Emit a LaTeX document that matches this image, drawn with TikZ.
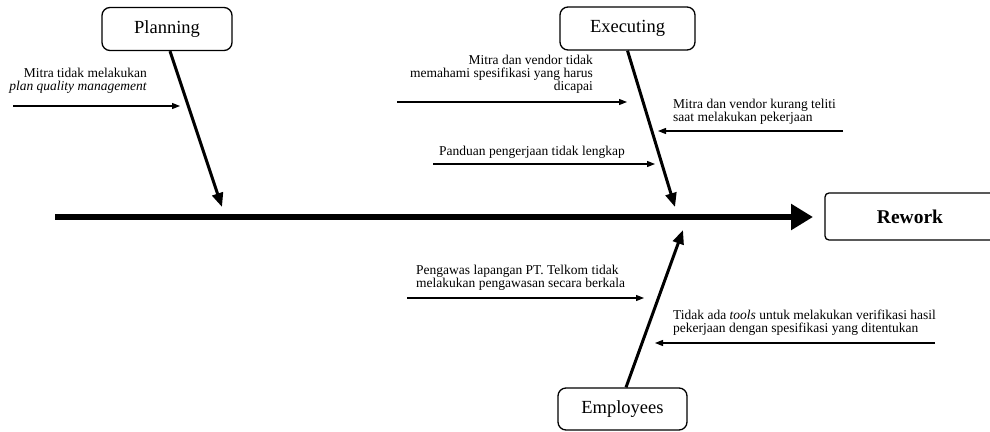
\documentclass[tikz,border=0pt]{standalone}
\usepackage{fontspec}
\setmainfont{Liberation Serif}
\usetikzlibrary{arrows.meta}
\tikzset{
	category/.style={draw,line width=1.3pt,rounded corners=8pt,minimum height=43pt,inner sep=0pt,font=\fontsize{18.5}{22}\selectfont},
	cause/.style={inner sep=0pt,font=\fontsize{13.5}{13}\selectfont},
	bone/.style={line width=3pt,-{Triangle[length=14pt,width=11pt]}},
	subcause/.style={line width=1.2pt,-{Triangle[length=8pt,width=6pt]}}
}
\begin{document}
\begin{tikzpicture}[x=1pt,y=-1pt]
		\useasboundingbox (0,0) rectangle (990,431);
		\clip (0,0) rectangle (990,431);
		\node (planning) at (167,29) [category,minimum width=130pt] {Planning};
		\node (executing) at (627.5,28.5) [category,minimum width=135pt] {Executing};
		\node (employees) at (622.5,409) [category,minimum width=129pt,minimum height=42pt] {Employees};
		\node (rework) at (915,216.5) [draw,line width=1.3pt,rounded corners=4pt,minimum width=180pt,minimum height=47pt,font=\fontsize{19.5}{22}\selectfont\bfseries] {\hspace*{-10pt}Rework};
		
		\coordinate (tail) at (55,217);
		\coordinate (head) at (813,217);
		\coordinate (p) at (222,207);
		\coordinate (e) at (675,207);
		\coordinate (m) at (683,230);
		
		\draw[line width=6pt,-{Triangle[length=22pt,width=25pt]}] (tail)--(head);
		\draw[bone] (planning.south)++(3,0)--(p);
		\draw[bone] (executing.south)--(e);
		\draw[bone] (employees.north)++(3.5,0)--(m);
		
		\node (c1) at (147,80.5) [cause,anchor=east,align=right] {Mitra tidak melakukan\\\textit{plan quality management}};
		\node (c2) at (593,74) [cause,anchor=east,align=right] {Mitra dan vendor tidak\\memahami spesifikasi yang harus\\dicapai};
		\node (c3) at (673,111.5) [cause,anchor=west,align=left] {Mitra dan vendor kurang teliti\\saat melakukan pekerjaan};
		\node (c4) at (439,152) [cause,anchor=west] {Panduan pengerjaan tidak lengkap};
		\node (c5) at (416,277.5) [cause,anchor=west,align=left] {Pengawas lapangan PT. Telkom tidak\\melakukan pengawasan secara berkala};
		\node (c6) at (673,322.5) [cause,anchor=west,align=left] {Tidak ada \textit{tools} untuk melakukan verifikasi hasil\\pekerjaan dengan spesifikasi yang ditentukan};
		
		\coordinate (a1s) at (13,106);  \coordinate (a1e) at (180,106);
		\coordinate (a2s) at (397,102); \coordinate (a2e) at (627,102);
		\coordinate (a3s) at (843,131); \coordinate (a3e) at (658,131);
		\coordinate (a4s) at (433,164); \coordinate (a4e) at (655,164);
		\coordinate (a5s) at (407,298); \coordinate (a5e) at (644,298);
		\coordinate (a6s) at (935,343); \coordinate (a6e) at (655,343);
		
		\draw[subcause] (a1s)--(a1e);
		\draw[subcause] (a2s)--(a2e);
		\draw[subcause] (a3s)--(a3e);
		\draw[subcause] (a4s)--(a4e);
		\draw[subcause] (a5s)--(a5e);
		\draw[subcause] (a6s)--(a6e);
	\end{tikzpicture}
\end{document}
